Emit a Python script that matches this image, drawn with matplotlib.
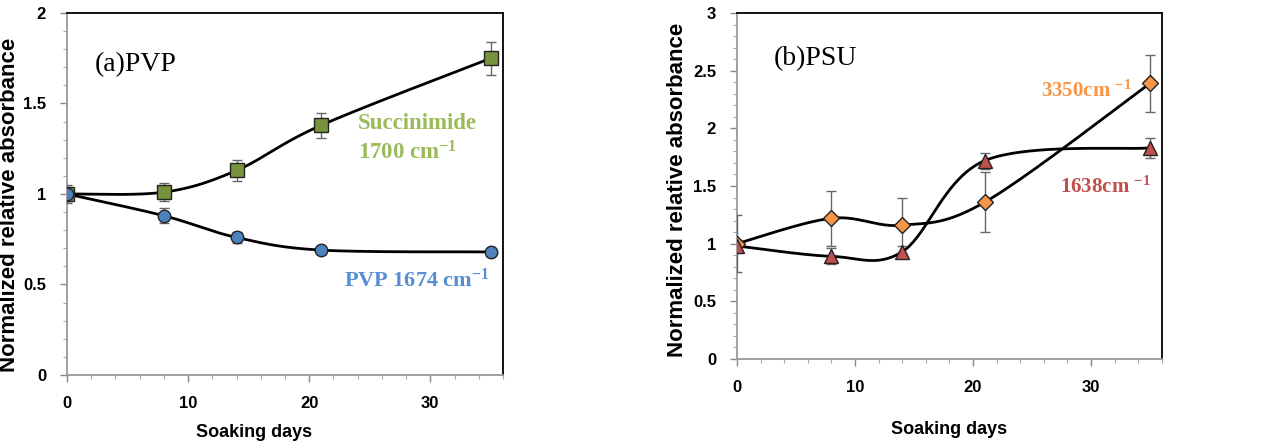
import numpy as np
import matplotlib
matplotlib.use("Agg")
import matplotlib.pyplot as plt
from matplotlib.ticker import MultipleLocator, FuncFormatter

plt.rcParams['font.family'] = ['Liberation Sans', 'DejaVu Sans']
plt.rcParams['mathtext.fontset'] = 'custom'
plt.rcParams['mathtext.rm'] = 'Liberation Serif:bold'
plt.rcParams['mathtext.default'] = 'rm'

# data
days = [0, 8, 14, 21, 35]
succ = [1.0, 1.01, 1.13, 1.38, 1.75]
succ_err = [0.05, 0.05, 0.06, 0.07, 0.09]
pvp = [1.0, 0.88, 0.76, 0.69, 0.68]
pvp_err = [0.04, 0.04, 0.03, 0.02, 0.02]

oh = [1.0, 1.22, 1.16, 1.36, 2.39]
oh_err = [0.25, 0.24, 0.24, 0.26, 0.25]
amide = [0.98, 0.89, 0.93, 1.72, 1.83]
amide_err = [0.05, 0.07, 0.05, 0.07, 0.09]


def smooth(x, y, n=40):
    # excel-like smoothed line (catmull-rom bezier)
    p = np.column_stack([x, y]).astype(float)
    pts = []
    for i in range(len(p) - 1):
        p0 = p[i - 1] if i > 0 else p[i]
        p3 = p[i + 2] if i + 2 < len(p) else p[i + 1]
        c1 = p[i] + (p[i + 1] - p0) / 6
        c2 = p[i + 1] - (p3 - p[i]) / 6
        t = np.linspace(0, 1, n)[:, None]
        seg = ((1 - t) ** 3 * p[i] + 3 * (1 - t) ** 2 * t * c1
               + 3 * (1 - t) * t ** 2 * c2 + t ** 3 * p[i + 1])
        pts.append(seg)
    s = np.vstack(pts)
    return s[:, 0], s[:, 1]


def fmt(v, pos):
    return ('%g' % v)


def style(ax, ymax):
    ax.set_xlim(0, 36)
    ax.set_ylim(0, ymax)
    ax.xaxis.set_major_locator(MultipleLocator(10))
    ax.xaxis.set_minor_locator(MultipleLocator(2))
    ax.yaxis.set_major_locator(MultipleLocator(0.5))
    ax.yaxis.set_minor_locator(MultipleLocator(0.1))
    ax.yaxis.set_major_formatter(FuncFormatter(fmt))
    ax.tick_params(which='major', direction='out', length=5, width=1,
                   color='#888888', labelsize=12, pad=10)
    ax.tick_params(which='minor', direction='out', length=3, width=0.8,
                   color='#aaaaaa')
    for lab in ax.get_xticklabels() + ax.get_yticklabels():
        lab.set_fontweight('bold')
    ax.spines['left'].set_color('#999999')
    ax.spines['bottom'].set_color('#999999')
    ax.spines['top'].set_color('black')
    ax.spines['right'].set_color('black')
    for s in ax.spines.values():
        s.set_linewidth(1.3)


def series(ax, y, err, marker, face, ms):
    sx, sy = smooth(days, y)
    ax.plot(sx, sy, color='black', lw=2, zorder=2)
    ax.errorbar(days, y, yerr=err, fmt='none', ecolor='#666666',
                elinewidth=1, capsize=3.5, capthick=1, zorder=3)
    ax.plot(days, y, linestyle='none', marker=marker, markersize=ms,
            markerfacecolor=face, markeredgecolor='#222222',
            markeredgewidth=1, zorder=4)


fig = plt.figure(figsize=(12.85, 4.45), dpi=100)

ax1 = fig.add_axes([0.0521, 0.1573, 0.3393, 0.8135])
style(ax1, 2)
series(ax1, succ, succ_err, 's', '#77933c', 9.5)
series(ax1, pvp, pvp_err, 'o', '#4f81bd', 9)
ax1.text(2.3, 1.68, '(a)PVP', family='Liberation Serif', fontsize=20)
ax1.text(24.0, 1.36, 'Succinimide', family='Liberation Serif',
         fontweight='bold', fontsize=16.5, color='#9bbb59')
ax1.text(24.0, 1.19, '1700 cm$^{-1}$', family='Liberation Serif',
         fontweight='bold', fontsize=16.5, color='#9bbb59')
ax1.text(22.9, 0.49, 'PVP 1674 cm$^{-1}$', family='Liberation Serif',
         fontweight='bold', fontsize=16, color='#558ed5')
ax1.set_xlabel('Soaking days', fontsize=13, fontweight='bold')
ax1.xaxis.set_label_coords(0.43, -0.135)
ax1.set_ylabel('Normalized relative absorbance', fontsize=16,
               fontweight='bold')
ax1.yaxis.set_label_coords(-0.108, 0.47)

ax2 = fig.add_axes([0.5735, 0.1933, 0.3307, 0.7775])
style(ax2, 3)
series(ax2, oh, oh_err, 'D', '#f79646', 8.5)
series(ax2, amide, amide_err, '^', '#c0504d', 10.5)
ax2.text(3.1, 2.55, '(b)PSU', family='Liberation Serif', fontsize=20)
ax2.text(25.8, 2.27, '3350cm $^{-1}$', family='Liberation Serif',
         fontweight='bold', fontsize=15, color='#f79646')
ax2.text(27.4, 1.44, '1638cm $^{-1}$', family='Liberation Serif',
         fontweight='bold', fontsize=15, color='#c0504d')
ax2.set_xlabel('Soaking days', fontsize=13, fontweight='bold')
ax2.xaxis.set_label_coords(0.5, -0.18)
ax2.set_ylabel('Normalized relative absorbance', fontsize=16,
               fontweight='bold')
ax2.yaxis.set_label_coords(-0.115, 0.49)

fig.savefig('out.png', dpi=100)
